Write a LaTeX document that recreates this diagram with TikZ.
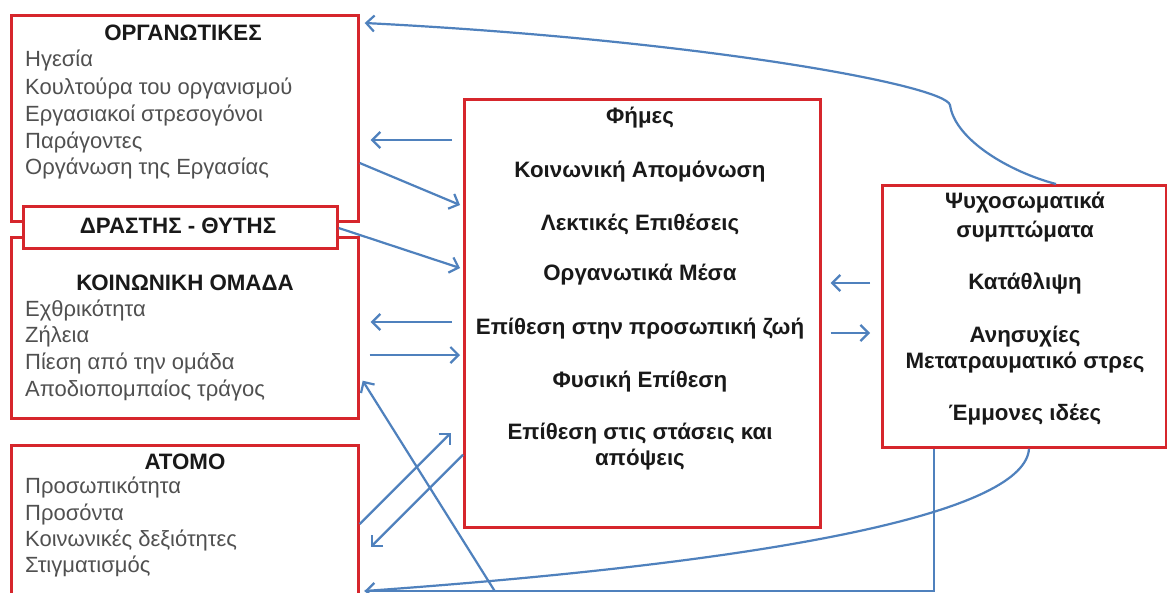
\documentclass[tikz,border=0pt]{standalone}
\usepackage{fontspec}
\setmainfont{Liberation Sans}
\usetikzlibrary{arrows.meta,calc}
\definecolor{boxred}{RGB}{214,38,44}
\definecolor{linkblue}{RGB}{79,129,189}
\definecolor{itemgray}{RGB}{80,80,80}
\definecolor{titleblack}{RGB}{25,25,25}
\begin{document}
\begin{tikzpicture}[x=1pt,y=-1pt,
  box/.style={draw=boxred,line width=2.7pt,fill=white,rectangle,inner sep=0pt,anchor=north west},
  ttl/.style={font=\fontsize{22.3}{25}\selectfont\bfseries,text=titleblack,inner sep=0pt},
  item/.style={font=\fontsize{22}{25}\selectfont,text=itemgray,inner sep=0pt,anchor=west},
  midtxt/.style={font=\fontsize{22.3}{25}\selectfont\bfseries,text=titleblack,inner sep=0pt},
  conn/.style={draw=linkblue,line width=2.2pt,-{Straight Barb[length=8pt,width=16pt,line width=2.2pt]}},
  plain/.style={draw=linkblue,line width=2.2pt}]
\useasboundingbox (0,0) rectangle (1167,592);
\fill[white] (0,0) rectangle (1167,592);

% boxes
\node[box,minimum width=347pt,minimum height=206pt] (org) at (10,14) {};
\node[box,minimum width=347pt,minimum height=181pt] (koin) at (10,236) {};
\node[box,minimum width=314pt,minimum height=42pt] (dr) at (22,205) {};
\node[box,minimum width=347pt,minimum height=154pt] (atomo) at (10,444) {};
\node[box,minimum width=356pt,minimum height=428pt] (mid) at (463,98) {};
\node[box,minimum width=284pt,minimum height=262pt] (right) at (881,184) {};

% ORG texts
\node[ttl] (orgt) at (183,33) {ΟΡΓΑΝΩΤΙΚΕΣ};
\node[item] (org1) at (25,60) {Ηγεσία};
\node[item] (org2) at (25,88) {Κουλτούρα του οργανισμού};
\node[item] (org3) at (25,115) {Εργασιακοί στρεσογόνοι};
\node[item] (org4) at (25,142) {Παράγοντες};
\node[item] (org5) at (25,168) {Οργάνωση της Εργασίας};

\node[ttl] (drt) at (178,226) {ΔΡΑΣΤΗΣ - ΘΥΤΗΣ};

\node[ttl] (koint) at (185,283) {ΚΟΙΝΩΝΙΚΗ ΟΜΑΔΑ};
\node[item] (koin1) at (25,310) {Εχθρικότητα};
\node[item] (koin2) at (25,336) {Ζήλεια};
\node[item] (koin3) at (25,363) {Πίεση από την ομάδα};
\node[item] (koin4) at (25,390) {Αποδιοπομπαίος τράγος};

\node[ttl] (atomot) at (185,462) {ΑΤΟΜΟ};
\node[item] (at1) at (25,487) {Προσωπικότητα};
\node[item] (at2) at (25,514) {Προσόντα};
\node[item] (at3) at (25,540) {Κοινωνικές δεξιότητες};
\node[item] (at4) at (25,566) {Στιγματισμός};

% middle texts
\node[midtxt] (m1) at (640,118) {Φήμες};
\node[midtxt] (m2) at (640,172) {Κοινωνική Απομόνωση};
\node[midtxt] (m3) at (640,224) {Λεκτικές Επιθέσεις};
\node[midtxt] (m4) at (640,275) {Οργανωτικά Μέσα};
\node[midtxt] (m5) at (640,329) {Επίθεση στην προσωπική ζωή};
\node[midtxt] (m6) at (640,382) {Φυσική Επίθεση};
\node[midtxt] (m7) at (640,434) {Επίθεση στις στάσεις και};
\node[midtxt] (m8) at (640,460) {απόψεις};

% right texts
\node[midtxt] (r1) at (1025,203) {Ψυχοσωματικά};
\node[midtxt] (r2) at (1025,232) {συμπτώματα};
\node[midtxt] (r3) at (1025,283) {Κατάθλιψη};
\node[midtxt] (r4) at (1025,337) {Ανησυχίες};
\node[midtxt] (r5) at (1025,363) {Μετατραυματικό στρες};
\node[midtxt] (r6) at (1025,415) {Έμμονες ιδέες};

% helper coordinates
\coordinate (bot) at ($(right.south west)+(53,0)$);
\coordinate (botcorner) at (bot |- 0,591);
\coordinate (atomoend) at ($(atomo.north east)+(5,147)$);
\coordinate (crossstart) at ($(atomo.north east)+(135,147)$);

% connectors
\draw[conn] ($(right.north west)+(175,0)$) .. controls (1010,172) and (955,140) .. (950,105)
  .. controls (945,85) and (700,40) .. ($(org.north east)+(5,9)$);
\draw[conn] ($(mid.north west)+(-11,42)$) -- ($(org.north east)+(11,126)$);
\draw[conn] ($(org.north east)+(0,149)$) -- ($(mid.north west)+(-3,107)$);
\draw[conn] ($(dr.north east)+(0,23)$) -- ($(mid.north west)+(-3,170)$);
\draw[conn] ($(mid.north west)+(-11,224)$) -- ($(koin.north east)+(11,86)$);
\draw[conn] ($(koin.north east)+(10,119)$) -- ($(mid.north west)+(-3,257)$);
\draw[conn] (crossstart) -- ($(koin.south east)+(3,-39)$);
\draw[conn] ($(atomo.north east)+(0,80)$) -- ($(mid.south west)+(-12,-96)$);
\draw[conn] ($(mid.south west)+(0,-74)$) -- ($(atomo.north east)+(11,103)$);
\draw[conn] ($(right.north west)+(-11,99)$) -- ($(mid.north east)+(9,185)$);
\draw[conn] ($(mid.north east)+(9,235)$) -- ($(right.north west)+(-11,149)$);
\draw[plain] ($(right.south west)+(148,0)$) .. controls (1025,510) and (800,560) .. (atomoend);
\draw[conn] (bot) -- (botcorner) -- (atomoend);
\end{tikzpicture}
\end{document}
